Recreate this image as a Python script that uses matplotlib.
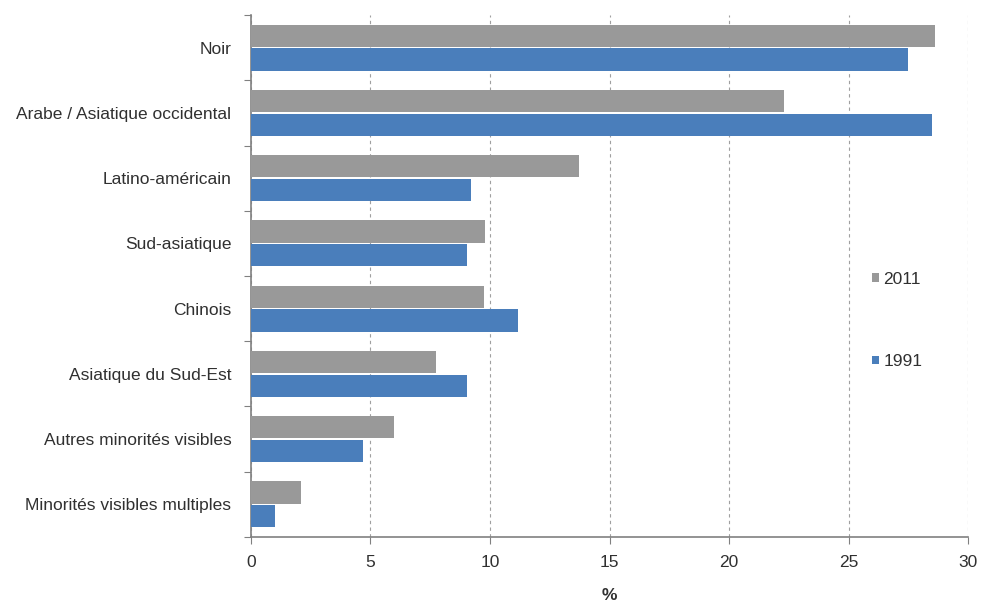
import numpy as np
from matplotlib import pyplot as plt

plt.rcParams['font.family'] = ['Liberation Sans', 'DejaVu Sans']
plt.rcParams['font.size'] = 12.5

# data (percent)
categories = ["Noir", "Arabe / Asiatique occidental", "Latino-américain", "Sud-asiatique",
              "Chinois", "Asiatique du Sud-Est", "Autres minorités visibles",
              "Minorités visibles multiples"]
v2011 = [28.6, 22.3, 13.7, 9.8, 9.75, 7.75, 6.0, 2.1]
v1991 = [27.5, 28.5, 9.2, 9.05, 11.15, 9.05, 4.7, 1.0]
xticks = [0, 5, 10, 15, 20, 25, 30]

c2011 = '#999999'
c1991 = '#4a7ebb'
txt = '#303030'

fig = plt.figure(figsize=(9.84, 6.04), dpi=100)
ax = fig.add_axes([0.255, 0.111, 0.729, 0.864])

pos = np.arange(len(categories))
h = 0.34
ax.barh(pos - 0.182, v2011, height=h, color=c2011, label='2011', zorder=3)
ax.barh(pos + 0.182, v1991, height=h, color=c1991, label='1991', zorder=3)

ax.set_xlim(0, 30)
ax.set_ylim(len(categories) - 0.5, -0.5)
ax.set_xticks(xticks)
ax.set_xticklabels([str(t) for t in xticks], color=txt)
ax.xaxis.grid(True, linestyle=(0, (3, 3)), color='#a0a0a0', linewidth=0.8, zorder=0)

# y ticks at category boundaries, labels at centres
ax.set_yticks(np.arange(len(categories) + 1) - 0.5)
ax.set_yticklabels([])
ax.set_yticks(pos, minor=True)
ax.set_yticklabels(categories, minor=True, color=txt)
ax.tick_params(axis='y', which='minor', length=0, pad=14)
ax.tick_params(axis='y', which='major', length=5, color='#808080')
ax.tick_params(axis='x', length=5, color='#808080', pad=8)

for s in ['top', 'right']:
    ax.spines[s].set_visible(False)
ax.spines['left'].set_color('#808080')
ax.spines['bottom'].set_color('#808080')
ax.spines['left'].set_linewidth(1.2)
ax.spines['bottom'].set_linewidth(1.2)

ax.set_xlabel('%', fontweight='bold', color=txt, labelpad=13)

leg = ax.legend(loc='upper left', bbox_to_anchor=(0.856, 0.521), frameon=False,
                labelspacing=3.87, handlelength=0.42, handleheight=0.42,
                handletextpad=0.25, borderaxespad=0)
for t in leg.get_texts():
    t.set_color(txt)

plt.savefig('out.png', dpi=100)
